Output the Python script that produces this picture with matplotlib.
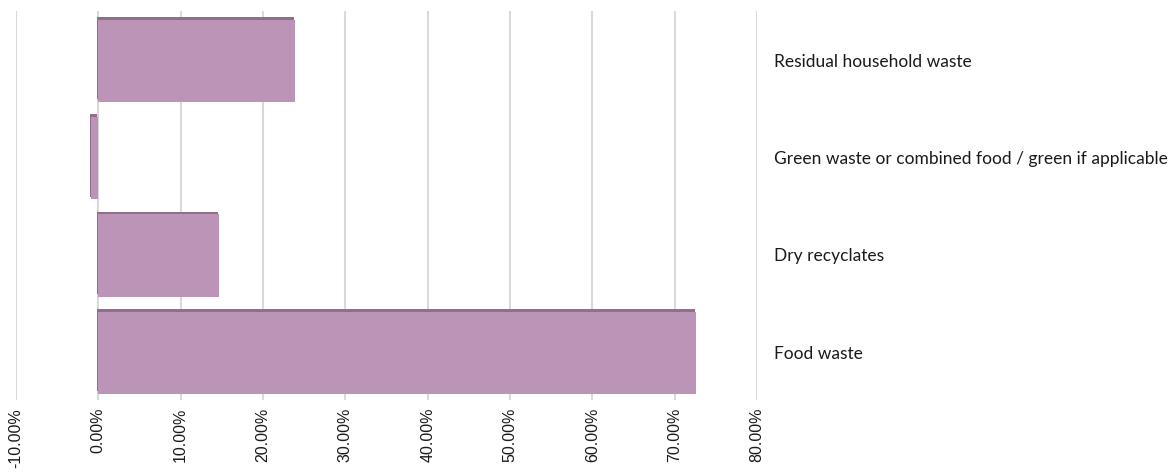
import matplotlib.pyplot as plt
import matplotlib.patheffects as pe
from matplotlib.ticker import FuncFormatter

categories = ["Residual household waste",
              "Green waste or combined food / green if applicable",
              "Dry recyclates",
              "Food waste"]
change_pct = [23.9, -0.85, 14.7, 72.6]

fig = plt.figure(figsize=(11.73, 4.77), dpi=100)
ax = fig.add_axes([16 / 1173, 1 - 401 / 477, (757 - 16) / 1173, (401 - 12) / 477])

ypos = list(range(len(categories)))
bars = ax.barh(ypos, change_pct, height=0.845, color="#bc94b8", zorder=3)
for b in bars:
    # darker band along the top and left edge of each bar
    b.set_path_effects([pe.SimplePatchShadow(offset=(-1.0, 2.0), shadow_rgbFace="#8f6f8c", alpha=1.0),
                        pe.Normal()])

ax.set_ylim(len(categories) - 0.514, -0.514)
ax.set_xlim(-10, 80)
ax.set_xticks(range(-10, 81, 10))
ax.xaxis.set_major_formatter(FuncFormatter(lambda v, _: f"{v:.2f}%"))
ax.grid(axis="x", color="#d9d9d9", linewidth=1.5, zorder=0)
ax.set_axisbelow(True)
for s in ax.spines.values():
    s.set_visible(False)
ax.tick_params(axis="x", length=0, pad=5, labelsize=11.5, labelrotation=90, labelcolor="#1a1a1a")
for t in ax.get_xticklabels():
    t.set_fontfamily("Liberation Sans")
ax.set_yticks([])

# category names sit to the right of the plot area
for y, name in zip(ypos, categories):
    ax.annotate(name, xy=(1, y), xycoords=("axes fraction", "data"),
                xytext=(12, 0), textcoords="offset points",
                va="center", ha="left", fontsize=12.5, family="Lato", color="#1a1a1a")

fig.savefig("out.png", dpi=100)
